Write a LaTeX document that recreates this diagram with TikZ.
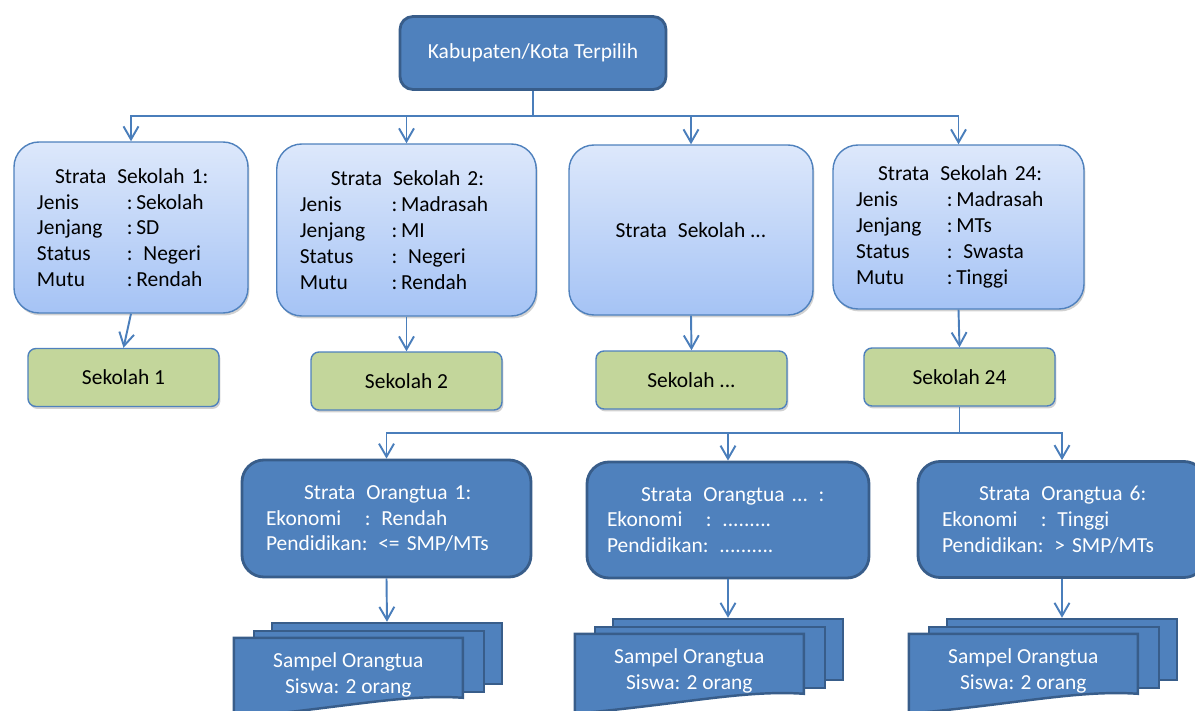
\documentclass[tikz,border=0pt]{standalone}
\usepackage{fontspec}
\setmainfont{Carlito}
\usetikzlibrary{arrows.meta, calc, shadows}

\definecolor{midblue}{HTML}{4F81BD}
\definecolor{darkedge}{HTML}{385D8A}
\definecolor{lineblue}{HTML}{4A7EBB}
\definecolor{lighttop}{HTML}{DDE8FB}
\definecolor{lightbot}{HTML}{A5C3F5}
\definecolor{schoolgreen}{HTML}{C3D69B}

% one pixel of the layout
\newlength\pxu
\setlength\pxu{0.2mm}
\newcommand\lab[2]{\makebox[#1\pxu][l]{#2}}
\newcommand\gap{\hspace{11\pxu}}

\tikzset{
  txt/.style = {font=\fontsize{12.2}{14.7}\selectfont},
  kab/.style = {rectangle, txt, rounded corners=13\pxu, draw=darkedge, line width=1.6pt, fill=midblue, text=white, minimum width=266\pxu, minimum height=73\pxu},
  strata/.style = {rectangle, txt, rounded corners=25\pxu, draw=midblue, line width=0.8pt, top color=lighttop, bottom color=lightbot, align=left, inner xsep=23\pxu, inner ysep=0pt,
    drop shadow={shadow xshift=0.8pt, shadow yshift=-1.4pt, opacity=0.3, fill=black!60}},
  sekolah/.style = {rectangle, txt, rounded corners=8\pxu, draw=midblue, line width=0.8pt, fill=schoolgreen, minimum width=191\pxu, minimum height=58\pxu,
    drop shadow={shadow xshift=0.8pt, shadow yshift=-1.4pt, opacity=0.3, fill=black!60}},
  ortu/.style = {rectangle, txt, rounded corners=22\pxu, draw=darkedge, line width=1.6pt, fill=midblue, text=white, align=left, inner ysep=0pt},
  sheet/.style = {rectangle, draw=darkedge, line width=1.4pt, fill=midblue, minimum width=230\pxu, minimum height=61\pxu},
  sheetline/.style = {draw=darkedge, line width=1.4pt, fill=midblue},
  sheettext/.style = {txt, text=white, align=center},
  conn/.style = {draw=lineblue, line width=1.1pt},
  arr/.style = {conn, -{Straight Barb[length=2.6mm, width=3mm]}}
}

\begin{document}
\begin{tikzpicture}[x=0.2mm, y=-0.2mm]
\clip (0,0) rectangle (1195,711);

% Top
\node[kab] (kab) at (533,53) {Kabupaten/Kota Terpilih};

% Row 1: strata sekolah
\node[strata, minimum width=234\pxu, minimum height=171\pxu, text width=188\pxu] (s1) at (131,227.5)
  {\hspace*{18\pxu}Strata\gap Sekolah 1:\\\lab{90}{Jenis}:\,Sekolah\\\lab{90}{Jenjang}:\,SD\\\lab{90}{Status}:\ \,Negeri\\\lab{90}{Mutu}:\,Rendah};
\node[strata, minimum width=259.5\pxu, minimum height=172\pxu, text width=213.5\pxu] (s2) at (406.5,230)
  {\hspace*{31\pxu}Strata\gap Sekolah 2:\\\lab{92}{Jenis}:\,Madrasah\\\lab{92}{Jenjang}:\,MI\\\lab{92}{Status}:\ \,Negeri\\\lab{92}{Mutu}:\,Rendah};
\node[strata, minimum width=244\pxu, minimum height=170\pxu, align=center] (s3) at (691,230)
  {Strata\gap Sekolah ...};
\node[strata, minimum width=251\pxu, minimum height=164\pxu, text width=205\pxu] (s4) at (958.5,227)
  {\hspace*{22\pxu}Strata\gap Sekolah 24:\\\lab{91}{Jenis}:\,Madrasah\\\lab{91}{Jenjang}:\,MTs\\\lab{91}{Status}:\ \,Swasta\\\lab{91}{Mutu}:\,Tinggi};

% Row 2: sekolah
\node[sekolah] (k1) at (123.5,377.5) {Sekolah 1};
\node[sekolah] (k2) at (406.5,381) {Sekolah 2};
\node[sekolah] (k3) at (691.5,380) {Sekolah ...};
\node[sekolah] (k4) at (959.5,377) {Sekolah 24};

% Row 3: strata orangtua
\node[ortu, minimum width=289\pxu, minimum height=117\pxu, text width=241\pxu] (o1) at (386.5,518.5)
  {\hspace*{38\pxu}Strata\gap Orangtua 1:\\\lab{99}{Ekonomi}:\ \,Rendah\\Pendidikan:\ \,<= SMP/MTs};
\node[ortu, minimum width=282\pxu, minimum height=116\pxu, text width=242\pxu, inner xsep=20\pxu] (o2) at (728,520)
  {\hspace*{34\pxu}Strata\gap Orangtua ... :\\\lab{99}{Ekonomi}:\ \,.........\\Pendidikan:\ \,..........};
\node[ortu, minimum width=288\pxu, minimum height=116\pxu, text width=240\pxu] (o3) at (1062,519.5)
  {\hspace*{37\pxu}Strata\gap Orangtua 6:\\\lab{99}{Ekonomi}:\ \,Tinggi\\Pendidikan:\ \,> SMP/MTs};

% Row 4: stacks of sampel
\node[sheet] (d1b) at (387,653.5) {};
\node[sheet] (d1m) at (369,661.5) {};
\coordinate (d1nw) at ($(d1m.north west)+(-19,8)$);
\filldraw[sheetline] (d1nw) -- ++(229,0) -- ++(0,60) .. controls ($(d1nw)+(170,56)$) and ($(d1nw)+(110,70)$) .. ($(d1nw)+(0,80)$) -- cycle;
\node[sheettext] (d1) at ($(d1nw)+(114.5,37.5)$) {Sampel Orangtua\\Siswa: 2 orang};

\node[sheet] (d2b) at (728,649.5) {};
\node[sheet] (d2m) at (710,657.5) {};
\coordinate (d2nw) at ($(d2m.north west)+(-19,8)$);
\filldraw[sheetline] (d2nw) -- ++(229,0) -- ++(0,60) .. controls ($(d2nw)+(170,56)$) and ($(d2nw)+(110,70)$) .. ($(d2nw)+(0,80)$) -- cycle;
\node[sheettext] (d2) at ($(d2nw)+(114.5,37.5)$) {Sampel Orangtua\\Siswa: 2 orang};

\node[sheet] (d3b) at (1062,649.5) {};
\node[sheet] (d3m) at (1044,657.5) {};
\coordinate (d3nw) at ($(d3m.north west)+(-19,8)$);
\filldraw[sheetline] (d3nw) -- ++(229,0) -- ++(0,60) .. controls ($(d3nw)+(170,56)$) and ($(d3nw)+(110,70)$) .. ($(d3nw)+(0,80)$) -- cycle;
\node[sheettext] (d3) at ($(d3nw)+(114.5,37.5)$) {Sampel Orangtua\\Siswa: 2 orang};

% Arrows: kabupaten -> strata sekolah
\coordinate (bus1) at (533,116);
\draw[conn] (kab.south) -- (bus1);
\draw[arr] (bus1) -| (s1.north);
\draw[arr] (bus1) -| (s2.north);
\draw[arr] (bus1) -| (s3.north);
\draw[arr] (bus1) -| (s4.north);

% strata -> sekolah
\draw[arr] (s1.south) -- (k1.north);
\draw[arr] (s2.south) -- (k2.north);
\draw[arr] (s3.south) -- (k3.north);
\draw[arr] (s4.south) -- (k4.north);

% sekolah 24 -> strata orangtua
\coordinate (bus2) at (959.5,433);
\draw[conn] (k4.south) -- (bus2);
\draw[arr] (bus2) -| (o1.north);
\draw[arr] (bus2) -| (o2.north);
\draw[arr] (bus2) -| (o3.north);

% strata orangtua -> sampel
\draw[arr] (o1.south) -- (d1b.north);
\draw[arr] (o2.south) -- (d2b.north);
\draw[arr] (o3.south) -- (d3b.north);

\end{tikzpicture}
\end{document}
